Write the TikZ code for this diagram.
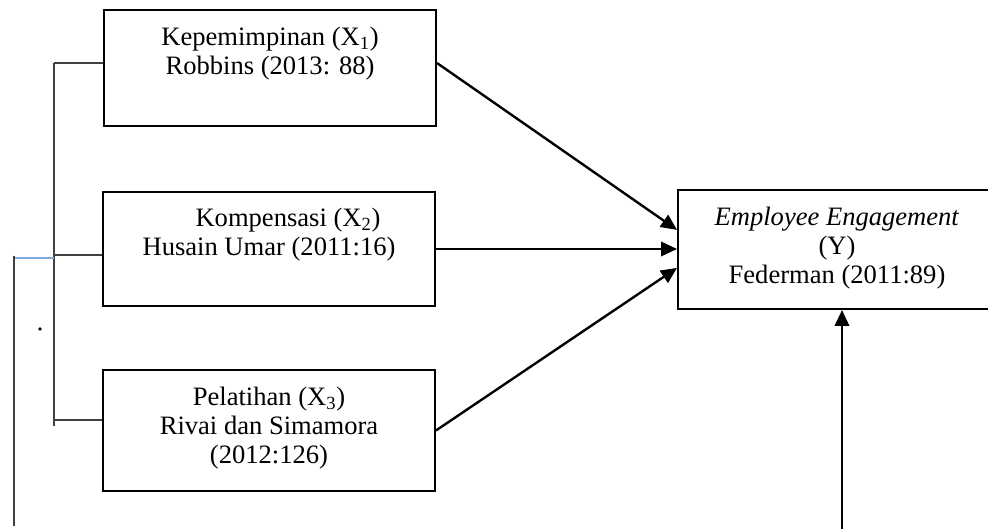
\documentclass[tikz,border=0pt]{standalone}
\usepackage{fontspec}
\setmainfont{Liberation Serif}
\usetikzlibrary{arrows.meta}

\begin{document}
\begin{tikzpicture}[>={Triangle[length=0.4cm, width=0.36cm]},
  kotak/.style={draw, line width=1.4pt, minimum width=8.3cm, inner sep=0pt},
  teks/.style={align=center, font=\fontsize{18.9}{20.6}\selectfont, inner sep=0pt},
  panah/.style={->, line width=1.7pt},
  garis/.style={line width=1pt, black!75}]
  \useasboundingbox (0,0) rectangle (24.7,-13.225);
  \clip (0,0) rectangle (24.7,-13.225);

  % kotak variabel X
  \node[kotak, minimum height=2.9cm] (x1) at (6.75,-1.70) {};
  \node[kotak, minimum height=2.85cm] (x2) at (6.725,-6.225) {};
  \node[kotak, minimum height=3.025cm] (x3) at (6.725,-10.7625) {};
  \node[teks] (t1) at (6.75,-1.35) {Kepemimpinan (X\textsubscript{1})\\Robbins (2013: 88)};
  \node[teks] (t2) at (6.725,-5.8625) {\hspace*{0.95cm}Kompensasi (X\textsubscript{2})\\Husain Umar (2011:16)};
  \node[teks] (t3) at (6.725,-10.70) {Pelatihan (X\textsubscript{3})\\Rivai dan Simamora\\(2012:126)};

  % kotak variabel Y
  \node[kotak, minimum width=7.95cm, minimum height=2.975cm] (y) at (20.925,-6.2375) {};
  \node[teks] (ty) at (20.925,-6.2) {\textit{Employee Engagement}\\(Y)\\Federman (2011:89)};

  % panah ke Y
  \draw[panah] ([yshift=-1.35cm]x1.north east) -- ([yshift=0.49cm]y.west);
  \draw[panah] (x2.east) -- (x2.east -| y.west);
  \draw[panah] (x3.east) -- ([yshift=-0.46cm]y.west);
  \coordinate (bawah) at (21.05,-13.3);
  \draw[panah] (bawah) -- (bawah |- y.south);

  % kurung kiri
  \coordinate (kA) at (1.35,-1.575);
  \coordinate (kB) at (1.35,-10.65);
  \draw[garis] (kA) -- (kB);
  \draw[garis] (kA) -- (kA -| x1.west);
  \draw[garis] (1.35,-6.375) -- (x2.west |- 0,-6.375);
  \draw[garis] (1.35,-10.5) -- (x3.west |- 0,-10.5);
  \draw[garis] (0.35,-6.4) -- (0.35,-13.15);
  \draw[line width=1pt, color={rgb,255:red,120;green,170;blue,220}] (0.375,-6.45) -- (1.35,-6.45);
  \fill (1.0,-8.225) circle (0.045);
\end{tikzpicture}
\end{document}
